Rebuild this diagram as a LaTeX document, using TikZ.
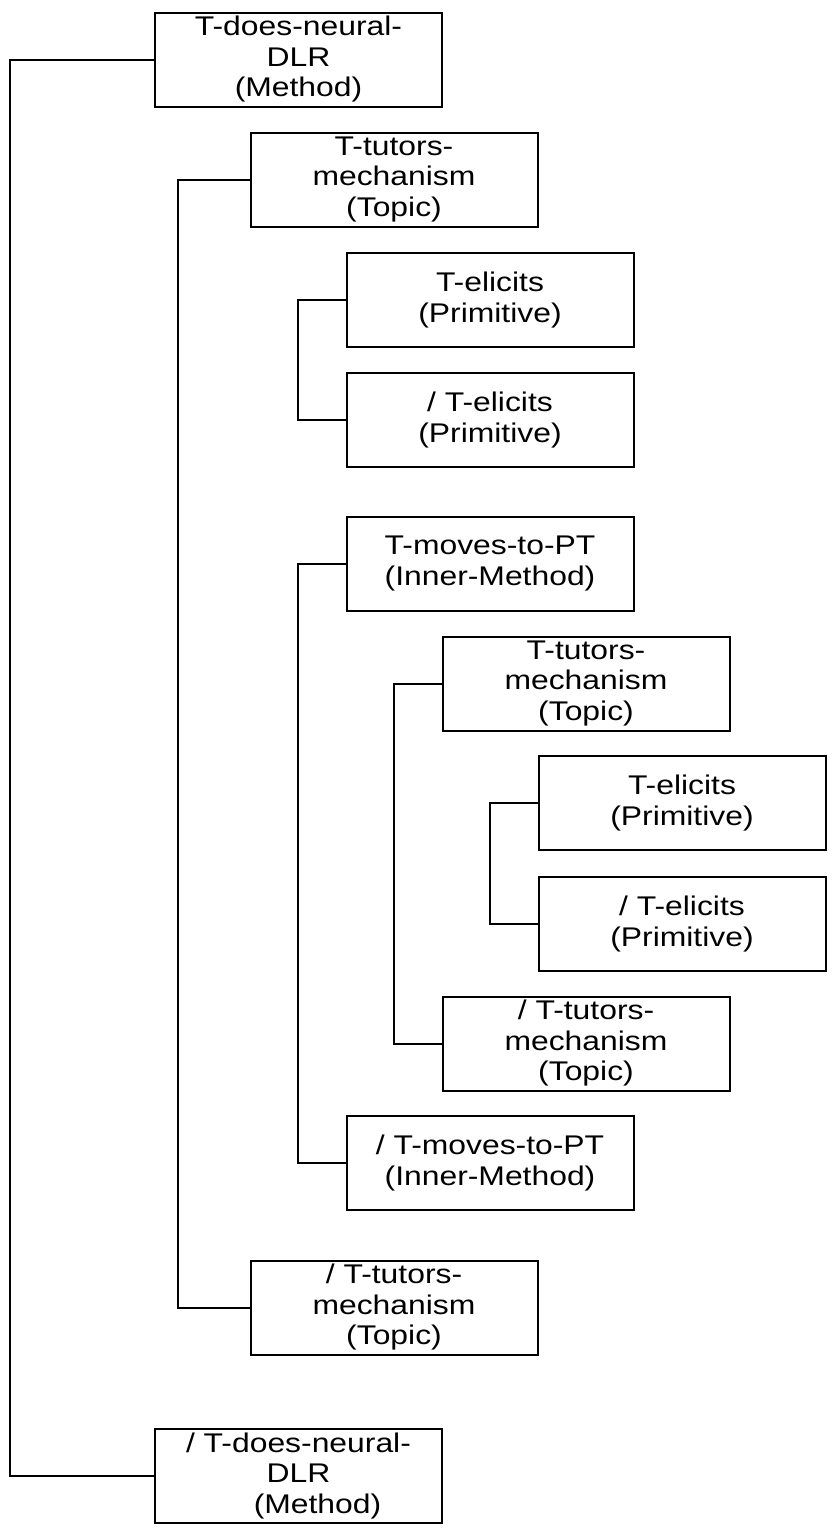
\documentclass[tikz,border=0pt]{standalone}
\usepackage{fontspec}
\setmainfont[FakeStretch=1.18]{Liberation Sans}
\begin{document}
\begin{tikzpicture}[x=1pt,y=-1pt,
  box/.style={draw, line width=2pt, rectangle, minimum width=287pt, minimum height=94pt,
    align=center, inner sep=0pt, font=\fontsize{27}{30.5}\selectfont},
  conn/.style={draw, line width=2pt}]
\useasboundingbox[fill=white] (0,0) rectangle (833,1532);
\node[box] (b1)  at (298.5,59.5)  {T-does-neural-\\DLR\\(Method)};
\node[box] (b2)  at (394,179.5)   {T-tutors-\\mechanism\\(Topic)};
\node[box] (b3)  at (490,300)     {T-elicits\\(Primitive)};
\node[box] (b4)  at (490,420)     {/ T-elicits\\(Primitive)};
\node[box] (b5)  at (490,563.5)   {T-moves-to-PT\\(Inner-Method)};
\node[box] (b6)  at (586,683.5)   {T-tutors-\\mechanism\\(Topic)};
\node[box] (b7)  at (682,803)     {T-elicits\\(Primitive)};
\node[box] (b8)  at (682,924)     {/ T-elicits\\(Primitive)};
\node[box] (b9)  at (586,1043.5)  {/ T-tutors-\\mechanism\\(Topic)};
\node[box] (b10) at (490,1163)    {/ T-moves-to-PT\\(Inner-Method)};
\node[box] (b11) at (394,1307.5)  {/ T-tutors-\\mechanism\\(Topic)};
\node[box] (b12) at (298.5,1475.5) {/ T-does-neural-\\DLR\\\hspace*{38pt}(Method)};
\draw[conn] (b1.west) -- ++(-144,0) |- (b12.west);
\draw[conn] (b2.west) -- ++(-72,0) |- (b11.west);
\draw[conn] (b3.west) -- ++(-48,0) |- (b4.west);
\draw[conn] (b5.west) -- ++(-48,0) |- (b10.west);
\draw[conn] (b6.west) -- ++(-48,0) |- (b9.west);
\draw[conn] (b7.west) -- ++(-48,0) |- (b8.west);
\end{tikzpicture}
\end{document}
